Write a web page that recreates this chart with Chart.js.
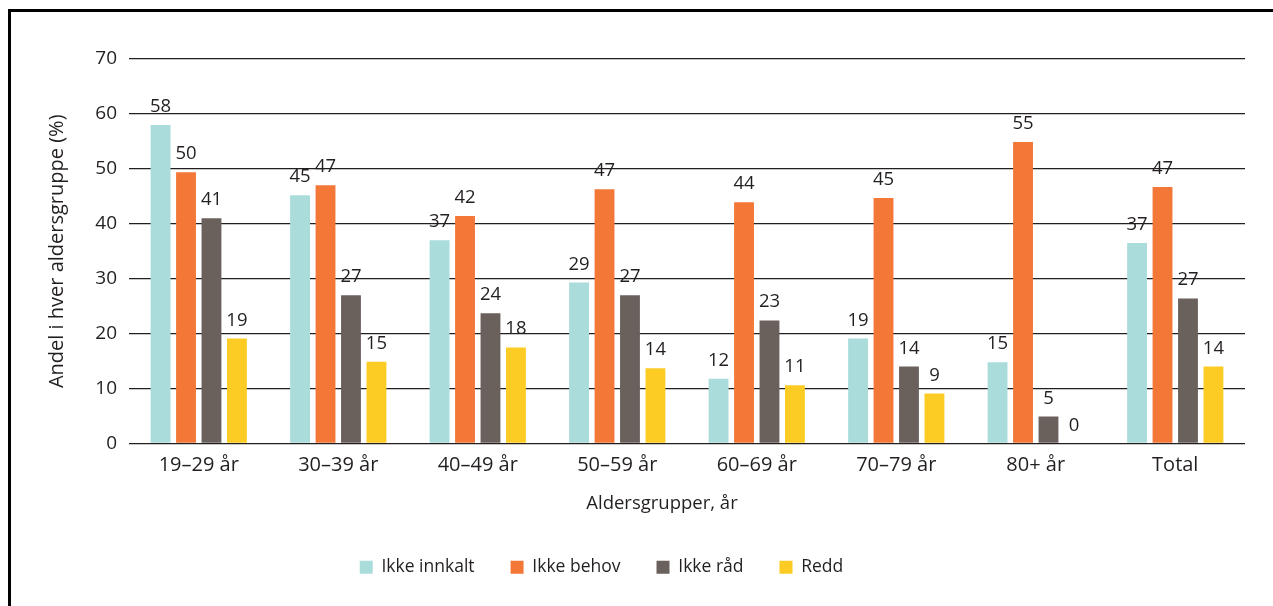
<!DOCTYPE html>
<html>
<head>
<meta charset="utf-8">
<script src="https://cdn.jsdelivr.net/npm/chart.js@4.4.0/dist/chart.umd.min.js"></script>
<style>
  html, body { margin: 0; padding: 0; background: #fff; overflow: hidden; }
  #wrap { position: relative; width: 1273px; height: 606px; }
  #frame { position: absolute; left: 8px; top: 9px; width: 1300px; height: 700px;
           border-top: 3px solid #000; border-left: 3px solid #000; pointer-events: none; }
</style>
</head>
<body>
<div id="wrap">
  <canvas id="c" width="1273" height="606"></canvas>
  <div id="frame"></div>
</div>
<script>
const categories = ['19–29 år', '30–39 år', '40–49 år', '50–59 år', '60–69 år', '70–79 år', '80+ år', 'Total'];
const seriesNames = ['Ikke innkalt', 'Ikke behov', 'Ikke råd', 'Redd'];
const ikkeInnkalt = [58.0, 45.2, 37.0, 29.3, 11.8, 19.1, 14.8, 36.5];
const ikkeBehov   = [49.4, 47.0, 41.4, 46.3, 43.9, 44.7, 54.9, 46.7];
const ikkeRaad    = [41.0, 27.0, 23.7, 27.0, 22.4, 14.0, 4.9, 26.4];
const redd        = [19.1, 14.9, 17.5, 13.7, 10.6, 9.1, 0, 14.0];
const labelsInnkalt = [58, 45, 37, 29, 12, 19, 15, 37];
const labelsBehov   = [50, 47, 42, 47, 44, 45, 55, 47];
const labelsRaad    = [41, 27, 24, 27, 23, 14, 5, 27];
const labelsRedd    = [19, 15, 18, 14, 11, 9, 0, 14];
const yTicks = [0, 10, 20, 30, 40, 50, 60, 70];
const xTitle = 'Aldersgrupper, år';
const yTitle = 'Andel i hver aldersgruppe (%)';
const colors = ['#A9DCDA', '#F37736', '#6A615D', '#FCCC25'];

const FONT = '"Open Sans", "DejaVu Sans", sans-serif';
const TEXT = '#231F20';

const valueLabels = {
  id: 'valueLabels',
  afterDatasetsDraw(chart) {
    const ctx = chart.ctx;
    ctx.save();
    ctx.font = '18.5px ' + FONT;
    ctx.fillStyle = TEXT;
    ctx.textAlign = 'center';
    ctx.textBaseline = 'alphabetic';
    chart.data.datasets.forEach((ds, di) => {
      const meta = chart.getDatasetMeta(di);
      meta.data.forEach((bar, i) => {
        ctx.fillText(String(ds.valueLabels[i]), bar.x, bar.y - 13);
      });
    });
    ctx.restore();
  }
};

// x-axis title: drawn below the tick labels, slightly left of the plot centre as in the source
const xAxisTitle = {
  id: 'xAxisTitle',
  afterDraw(chart) {
    const ctx = chart.ctx;
    const s = chart.scales.x;
    ctx.save();
    ctx.font = '18.5px ' + FONT;
    ctx.fillStyle = TEXT;
    ctx.textAlign = 'center';
    ctx.textBaseline = 'alphabetic';
    ctx.fillText(xTitle, (s.left + s.right) / 2 - 25, s.top + 65);
    ctx.restore();
  }
};

const shiftLegend = {
  id: 'shiftLegend',
  afterLayout(chart) {
    const lg = chart.legend;
    if (lg) { lg.left -= 21; lg.right -= 21; }
  }
};

Chart.defaults.font.family = FONT;
Chart.defaults.font.size = 17.5;
Chart.defaults.color = TEXT;

new Chart(document.getElementById('c'), {
  type: 'bar',
  data: {
    labels: categories,
    datasets: [
      { label: seriesNames[0], data: ikkeInnkalt, valueLabels: labelsInnkalt, backgroundColor: colors[0] },
      { label: seriesNames[1], data: ikkeBehov, valueLabels: labelsBehov, backgroundColor: colors[1] },
      { label: seriesNames[2], data: ikkeRaad, valueLabels: labelsRaad, backgroundColor: colors[2] },
      { label: seriesNames[3], data: redd, valueLabels: labelsRedd, backgroundColor: colors[3] }
    ]
  },
  options: {
    responsive: false,
    animation: false,
    devicePixelRatio: 1,
    categoryPercentage: 0.73,
    barPercentage: 0.78,
    layout: { padding: { top: 59, right: 28, left: 0, bottom: 20 } },
    plugins: {
      tooltip: { enabled: false },
      legend: {
        position: 'bottom',
        labels: {
          boxWidth: 13, boxHeight: 13, padding: 36,
          font: { size: 17.5, family: FONT }, color: TEXT
        }
      }
    },
    scales: {
      x: {
        grid: { display: false, drawTicks: false },
        border: { display: false },
        ticks: { padding: 10, font: { size: 20 }, color: TEXT, maxRotation: 0 },
        afterFit(s) { s.height = 79; }
      },
      y: {
        min: 0, max: 70,
        afterBuildTicks(s) { s.ticks = yTicks.map(v => ({ value: v })); },
        grid: { color: '#231F20', lineWidth: 1.3, drawTicks: false },
        border: { display: false },
        ticks: { padding: 12, font: { size: 19 }, color: TEXT },
        title: { display: true, text: yTitle, font: { size: 20 }, color: TEXT, padding: { top: 45, bottom: 0 } },
        afterFit(s) { s.width = 129; }
      }
    }
  },
  plugins: [valueLabels, xAxisTitle, shiftLegend]
});
</script>
</body>
</html>
